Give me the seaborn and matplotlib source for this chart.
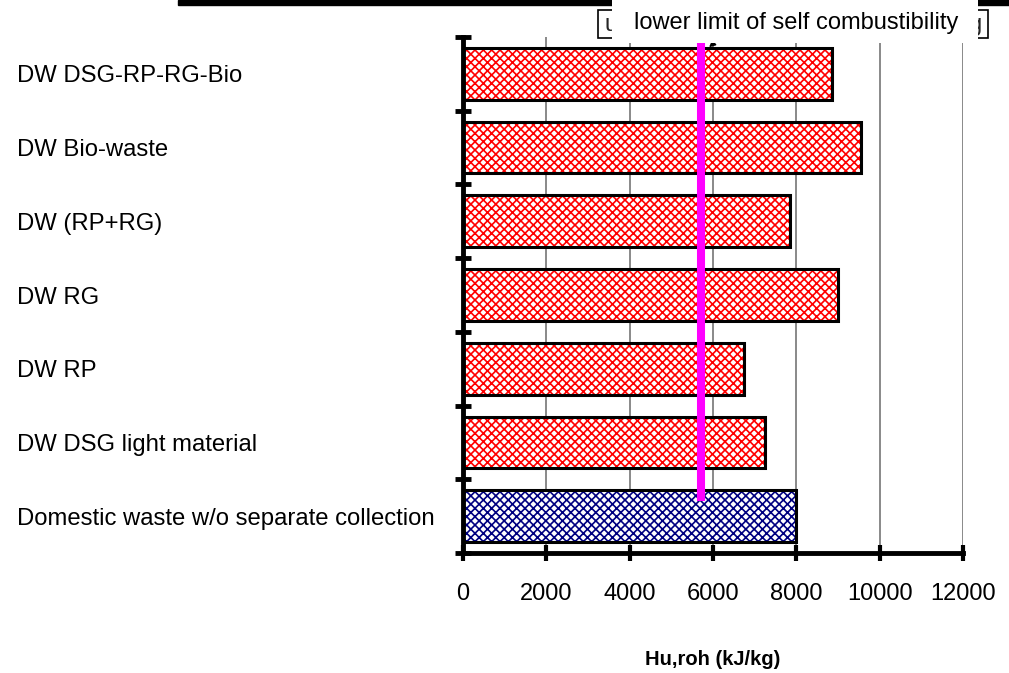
import numpy as np
import pandas as pd
import matplotlib
matplotlib.use("Agg")
import matplotlib.pyplot as plt
import seaborn as sns
from matplotlib.patches import Rectangle, FancyArrowPatch
from matplotlib.ticker import FixedLocator

# Lower heating value of domestic waste fractions (kJ/kg)
categories = [
    "DW DSG-RP-RG-Bio",
    "DW Bio-waste",
    "DW (RP+RG)",
    "DW RG",
    "DW RP",
    "DW DSG light material",
    "Domestic waste w/o separate collection",
]
heating_values = [8850, 9550, 7850, 9000, 6750, 7250, 8000]
hatch_colors = ["#FF0000"] * 6 + ["#000080"]
self_combustion_limit = 5700
x_ticks = [0, 2000, 4000, 6000, 8000, 10000, 12000]
x_label = "Hu,roh (kJ/kg)"
limit_label = "lower limit of self combustibility"

sns.set_style("white")
plt.rcParams["font.family"] = ["Liberation Sans", "DejaVu Sans"]
plt.rcParams["hatch.linewidth"] = 1.2

df = pd.DataFrame({"category": categories, "hu": heating_values})

W, H = 1009, 673
fig = plt.figure(figsize=(W / 100, H / 100), dpi=100)
ax = fig.add_axes([463 / W, 1 - 553 / H, 500 / W, 516 / H])

# hatched fill of the bars
sns.barplot(data=df, x="hu", y="category", order=categories, color="white",
            width=0.7, linewidth=0, errorbar=None, ax=ax)
for patch, hc in zip(ax.patches, hatch_colors):
    patch.set_hatch("xxxx")
    patch.set_edgecolor(hc)
    patch.set_linewidth(0)

# black outline on top of the hatching
sns.barplot(data=df, x="hu", y="category", order=categories, color="black",
            fill=False, width=0.7, linewidth=2.2, errorbar=None, ax=ax)

# self combustibility limit
ax.axvline(self_combustion_limit, ymin=0.10, ymax=1.0, color="#FF00FF",
           lw=5.8, solid_capstyle="butt", zorder=4)

ax.set_xlim(0, x_ticks[-1])
ax.set_xticks(x_ticks)
ax.set_xticklabels([str(t) for t in x_ticks])
ax.grid(axis="x", color="#808080", lw=1.3)
ax.grid(axis="y", visible=False)
ax.set_axisbelow(True)

for side in ("top", "right"):
    ax.spines[side].set_visible(False)
for side in ("left", "bottom"):
    ax.spines[side].set_linewidth(3.5)
    ax.spines[side].set_color("black")

ax.tick_params(axis="x", which="major", direction="inout", length=11.5, width=3,
               color="black", labelsize=17, labelcolor="black", pad=15.5, bottom=True)
ax.yaxis.set_minor_locator(FixedLocator(np.arange(-0.5, len(categories), 1.0)))
ax.tick_params(axis="y", which="minor", direction="inout", length=11.5, width=3.5,
               color="black", left=True)
ax.tick_params(axis="y", which="major", length=0, pad=321, labelsize=17.2,
               labelcolor="black", left=True)
for lab in ax.get_yticklabels():
    lab.set_horizontalalignment("left")

ax.set_ylabel("")
ax.set_xlabel(x_label, fontsize=14.5, fontweight="bold", color="black")
ax.xaxis.set_label_coords(0.5, -0.188)

# header strip and limit label
fig.add_artist(Rectangle((178 / W, 1 - 5 / H), (W - 178) / W, 5 / H,
                         transform=fig.transFigure, color="black", zorder=5))
fig.add_artist(Rectangle((598 / W, 1 - 38 / H), (988 - 598) / W, 28 / H,
                         transform=fig.transFigure, fill=False, ec="black",
                         lw=1.2, zorder=5))
fig.text(605 / W, 1 - 25 / H, "u", ha="left", va="center", fontsize=17, zorder=5)
fig.text(982 / W, 1 - 25 / H, "g", ha="right", va="center", fontsize=17, zorder=5)
fig.add_artist(FancyArrowPatch((722 / W, 1 - 36 / H), (707 / W, 1 - 49 / H),
                               transform=fig.transFigure, arrowstyle="-|>",
                               mutation_scale=9, lw=1, color="black", zorder=5))
fig.add_artist(Rectangle((612 / W, 1 - 43 / H), (978 - 612) / W, 43 / H,
                         transform=fig.transFigure, fc="white", ec="none", zorder=6))
fig.text(796 / W, 1 - 23 / H, limit_label, ha="center", va="center",
         fontsize=17, color="black", zorder=7)

fig.savefig("out.png", dpi=100)
